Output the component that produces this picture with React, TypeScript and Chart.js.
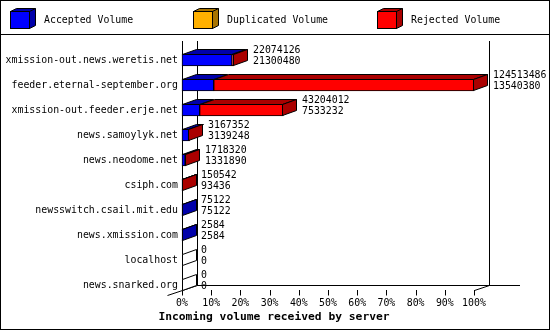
import React, { useEffect, useRef } from "react";
import { Chart, registerables } from "chart.js";

Chart.register(...registerables);

const categories = [
  "xmission-out.news.weretis.net",
  "feeder.eternal-september.org",
  "xmission-out.feeder.erje.net",
  "news.samoylyk.net",
  "news.neodome.net",
  "csiph.com",
  "newsswitch.csail.mit.edu",
  "news.xmission.com",
  "localhost",
  "news.snarked.org",
];
const accepted = [21300480, 13540380, 7533232, 3139248, 1331890, 93436, 75122, 2584, 0, 0];
const duplicated = [0, 0, 0, 0, 0, 0, 0, 0, 0, 0];
const rejected = [773646, 110973106, 35670780, 28104, 386430, 57106, 0, 0, 0, 0];
const seriesNames = ["Accepted Volume", "Duplicated Volume", "Rejected Volume"];
const seriesColors = ["#0000FF", "#FFB000", "#FF0000"];
const seriesShades = ["#0000AA", "#A87400", "#AA0000"];
const tickPercents = [0, 10, 20, 30, 40, 50, 60, 70, 80, 90, 100];
const axisTitle = "Incoming volume received by server";

const FONT = "'DejaVu Sans Mono', 'Liberation Mono', monospace";
const FS = 9.9;
const DX = 14;
const DY = 5;
const FDX = 15;

export default function App() {
  const ref = useRef<HTMLCanvasElement>(null);

  useEffect(() => {
    document.body.style.margin = "0";
    const canvas = ref.current!;
    const series = [accepted, duplicated, rejected];
    const totals = categories.map((_, i) => series.reduce((s, arr) => s + arr[i], 0));
    const maxTotal = Math.max(...totals);

    const poly = (ctx: CanvasRenderingContext2D, pts: number[][], fill: string | null) => {
      ctx.beginPath();
      ctx.moveTo(pts[0][0], pts[0][1]);
      for (let k = 1; k < pts.length; k++) ctx.lineTo(pts[k][0], pts[k][1]);
      ctx.closePath();
      if (fill) {
        ctx.fillStyle = fill;
        ctx.fill();
      }
      ctx.stroke();
    };
    const line = (ctx: CanvasRenderingContext2D, x1: number, y1: number, x2: number, y2: number) => {
      ctx.beginPath();
      ctx.moveTo(x1, y1);
      ctx.lineTo(x2, y2);
      ctx.stroke();
    };

    const plugin = {
      id: "innreport3d",
      beforeDraw(chart: any) {
        const ctx = chart.ctx;
        ctx.save();
        ctx.fillStyle = "#fff";
        ctx.fillRect(0, 0, chart.width, chart.height);
        ctx.restore();
      },
      beforeDatasetsDraw(chart: any) {
        const { ctx, chartArea: ca, width, height } = chart;
        const xs = chart.scales.x;
        ctx.save();
        ctx.strokeStyle = "#000";
        ctx.lineWidth = 1;
        ctx.strokeRect(0.5, 0.5, width - 1, height - 1);
        line(ctx, 0, 34.5, width, 34.5);
        const colW = width / 3;
        seriesNames.forEach((name, i) => {
          const bx = Math.round(i * colW) + 10.5;
          const by = 11.5;
          const w = 19;
          const h = 17;
          poly(
            ctx,
            [
              [bx, by],
              [bx + 6, by - 3],
              [bx + w + 6, by - 3],
              [bx + w + 6, by + h - 3],
              [bx + w, by + h],
              [bx + w, by],
            ],
            seriesShades[i]
          );
          ctx.fillStyle = seriesColors[i];
          ctx.fillRect(bx, by, w, h);
          ctx.strokeRect(bx, by, w, h);
          line(ctx, bx + w, by, bx + w + 6, by - 3);
          ctx.fillStyle = "#000";
          ctx.font = `${FS}px ${FONT}`;
          ctx.textAlign = "left";
          ctx.textBaseline = "middle";
          ctx.fillText(name, Math.round(i * colW) + 44, 20.5);
        });
        const L = ca.left;
        const R = ca.right;
        const B = ca.bottom;
        const T = 41;
        line(ctx, L + 0.5, T, L + 0.5, B + 6);
        line(ctx, L + FDX + 0.5, T, L + FDX + 0.5, B + 1);
        line(ctx, R + FDX + 0.5, T, R + FDX + 0.5, B + 1);
        line(ctx, L + FDX, B + 0.5, R + 46, B + 0.5);
        line(ctx, L - 14.5, B + 10.5, L + FDX + 0.5, B + 0.5);
        line(ctx, R + 0.5, B + 5.5, R + FDX + 0.5, B + 0.5);
        tickPercents.forEach((p) => {
          const x = Math.round(xs.getPixelForValue((maxTotal * p) / 100)) + 0.5;
          line(ctx, x, B + 5, x, B + 10.5);
        });
        ctx.fillStyle = "#000";
        ctx.font = `bold 11.3px ${FONT}`;
        ctx.textAlign = "center";
        ctx.textBaseline = "middle";
        ctx.fillText(axisTitle, 274, 317.5);
        ctx.restore();
      },
      afterDatasetsDraw(chart: any) {
        const { ctx } = chart;
        const metas = series.map((_, d) => chart.getDatasetMeta(d));
        ctx.save();
        ctx.strokeStyle = "#000";
        ctx.lineWidth = 1;
        categories.forEach((_, i) => {
          const els = metas.map((m: any) => m.data[i]);
          const yc = els[0].y;
          const h = els[0].height;
          const top = Math.round(yc - h / 2) + 0.5;
          const bot = Math.round(yc + h / 2) - 0.5;
          let lastD = -1;
          series.forEach((arr, d) => {
            if (arr[i] > 0) {
              lastD = d;
              const x0 = Math.round(els[d].base) + 0.5;
              const x1 = Math.max(x0, Math.round(els[d].x) - 0.5);
              poly(
                ctx,
                [
                  [x0, top],
                  [x1, top],
                  [x1 + DX, top - DY],
                  [x0 + DX, top - DY],
                ],
                seriesShades[d]
              );
            }
          });
          const xEnd = Math.round(els[series.length - 1].x);
          const xe = lastD >= 0 ? Math.max(chart.chartArea.left + 0.5, xEnd - 0.5) : xEnd + 0.5;
          poly(
            ctx,
            [
              [xe, top],
              [xe + DX, top - DY],
              [xe + DX, bot - DY],
              [xe, bot],
            ],
            lastD >= 0 ? seriesShades[lastD] : "#fff"
          );
          ctx.fillStyle = "#000";
          ctx.font = `${FS}px ${FONT}`;
          ctx.textAlign = "left";
          ctx.textBaseline = "middle";
          ctx.fillText(String(totals[i]), xEnd + 19, yc - 10);
          ctx.fillText(String(accepted[i]), xEnd + 19, yc + 1);
        });
        ctx.restore();
      },
    };

    const chart = new Chart(canvas, {
      type: "bar",
      data: {
        labels: categories,
        datasets: series.map((data, i) => ({
          label: seriesNames[i],
          data,
          backgroundColor: seriesColors[i],
          borderColor: "#000",
          borderWidth: 1,
          borderSkipped: false,
          barThickness: 12,
          clip: false,
        })),
      },
      options: {
        indexAxis: "y",
        responsive: false,
        animation: false,
        events: [],
        layout: { padding: { top: 60, right: 76, bottom: 0, left: 0 } },
        plugins: {
          legend: { display: false },
          tooltip: { enabled: false },
          title: { display: false },
        },
        scales: {
          x: {
            stacked: true,
            min: 0,
            max: maxTotal,
            grid: { display: false, drawTicks: false },
            border: { display: false },
            afterBuildTicks: (s: any) => {
              s.ticks = tickPercents.map((p) => ({ value: (maxTotal * p) / 100 }));
            },
            afterFit: (s: any) => {
              s.height = 45;
            },
            ticks: {
              padding: 12,
              maxRotation: 0,
              autoSkip: false,
              color: "#000",
              font: { family: FONT, size: FS },
              callback: (v: any) => `${Math.round((Number(v) / maxTotal) * 100)}%`,
            },
          },
          y: {
            stacked: true,
            offset: false,
            grid: { display: false, drawTicks: false },
            border: { display: false },
            afterFit: (s: any) => {
              s.width = 182;
            },
            ticks: {
              padding: 4,
              autoSkip: false,
              color: "#000",
              font: { family: FONT, size: FS },
            },
          },
        },
      } as any,
      plugins: [plugin],
    });

    return () => chart.destroy();
  }, []);

  return (
    <div style={{ width: 550, height: 330 }}>
      <canvas ref={ref} width={550} height={330} style={{ display: "block" }} />
    </div>
  );
}
